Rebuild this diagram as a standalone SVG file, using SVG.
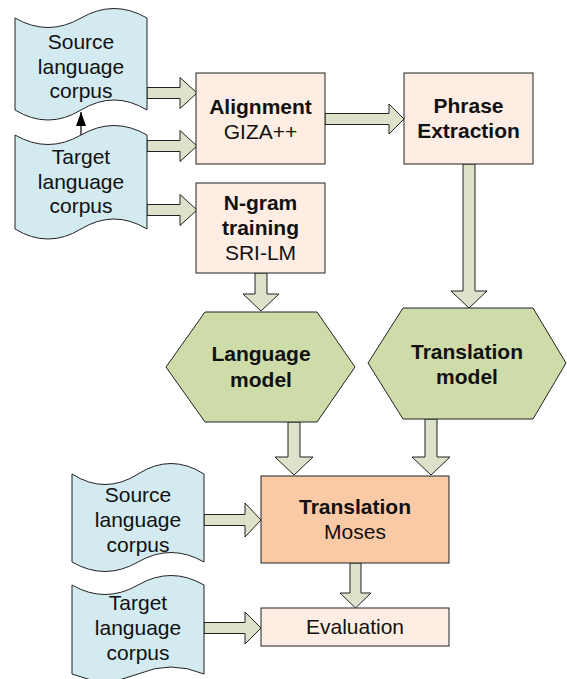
<svg xmlns="http://www.w3.org/2000/svg" width="567" height="679" viewBox="0 0 567 679">
<defs>
<style>
.corpus{fill:#D3EAF0;stroke:#222;stroke-width:1}
.box{fill:#FDEDE3;stroke:#222;stroke-width:1}
.hot{fill:#FAC9A6;stroke:#222;stroke-width:1}
.hex{fill:#CEDCAA;stroke:#222;stroke-width:1}
.barrow{fill:#DDE2CB;stroke:#222;stroke-width:1}
text{font-family:"Liberation Sans",Arial,sans-serif;font-size:21px;fill:#111;text-anchor:middle}
.b{font-weight:bold}
</style>
<marker id="tri" markerWidth="14" markerHeight="10" refX="14" refY="5" orient="auto" markerUnits="userSpaceOnUse">
<path d="M0,0 L14,5 L0,10 z" fill="#000"/>
</marker>
</defs>
<g id="connectors">
<line x1="81" y1="136" x2="81" y2="112" stroke="#000" stroke-width="1.2" marker-end="url(#tri)"/>
<path class="barrow" d="M147,87.5 H180 V77.5 L197,93 L180,108.5 V98.5 H147 Z"/>
<path class="barrow" d="M147,140.5 H180 V130.5 L197,146 L180,161.5 V151.5 H147 Z"/>
<path class="barrow" d="M147,204.5 H180 V194.5 L197,210 L180,225.5 V215.5 H147 Z"/>
<path class="barrow" d="M325,113.5 H389 V104 L404,119 L389,134 V124.5 H325 Z"/>
<path class="barrow" d="M463,164 V291 H451 L469,308 L487,291 H475 V164 Z"/>
<path class="barrow" d="M255,273 V294 H243 L261,311 L279,294 H267 V273 Z"/>
<path class="barrow" d="M288,422 V457 H275 L294,475 L313,457 H300 V422 Z"/>
<path class="barrow" d="M425,419 V457 H412 L431,475 L450,457 H437 V419 Z"/>
<path class="barrow" d="M350,563 V593 H340 L355.5,608 L371,593 H361 V563 Z"/>
<path class="barrow" d="M204,514.5 H245 V503 L261,520 L245,537 V525.5 H204 Z"/>
<path class="barrow" d="M204,622.5 H245 V612 L261,628 L245,644 V633.5 H204 Z"/>
</g>
<g id="source1">
<path class="corpus" d="M15,18 q33,19 66,0 t66,0 V110 q-33,-20 -66,0 t-66,0 Z"/>
<text x="81" y="49">Source</text>
<text x="81" y="74">language</text>
<text x="81" y="98">corpus</text>
</g>
<g id="target1">
<path class="corpus" d="M15,135 q33,19 66,0 t66,0 V229 q-33,-20 -66,0 t-66,0 Z"/>
<text x="81" y="164">Target</text>
<text x="81" y="189">language</text>
<text x="81" y="213">corpus</text>
</g>
<g id="alignment">
<rect class="box" x="196" y="73" width="129" height="91"/>
<text class="b" x="260.5" y="114">Alignment</text>
<text x="260.5" y="139">GIZA++</text>
</g>
<g id="phrase">
<rect class="box" x="404" y="73" width="129" height="91"/>
<text class="b" x="468.5" y="113">Phrase</text>
<text class="b" x="468.5" y="138">Extraction</text>
</g>
<g id="ngram">
<rect class="box" x="196" y="183" width="129" height="90"/>
<text class="b" x="260.5" y="210">N-gram</text>
<text class="b" x="260.5" y="235">training</text>
<text x="260.5" y="260">SRI-LM</text>
</g>
<g id="langmodel">
<path class="hex" d="M166,367 L205,312 H317 L355,367 L317,422 H205 Z"/>
<text class="b" x="261" y="361">Language</text>
<text class="b" x="261" y="387">model</text>
</g>
<g id="transmodel">
<path class="hex" d="M368,363 L403,308 H533 L566,363 L533,419 H403 Z"/>
<text class="b" x="467" y="359">Translation</text>
<text class="b" x="467" y="384">model</text>
</g>
<g id="translation">
<rect class="hot" x="261" y="476" width="188" height="87"/>
<text class="b" x="355" y="514">Translation</text>
<text x="355" y="539">Moses</text>
</g>
<g id="evaluation">
<rect class="box" x="261" y="608" width="188" height="38"/>
<text x="355" y="634">Evaluation</text>
</g>
<g id="source2">
<path class="corpus" d="M72,474 q33,21 66,0 t66,0 V562 q-33,-19 -66,0 t-66,0 Z"/>
<text x="138" y="502">Source</text>
<text x="138" y="527">language</text>
<text x="138" y="552">corpus</text>
</g>
<g id="target2">
<path class="corpus" d="M72,585 q33,19 66,0 t66,0 V674 q-33,-14 -66,0 t-66,0 Z"/>
<text x="138" y="610">Target</text>
<text x="138" y="635">language</text>
<text x="138" y="660">corpus</text>
</g>
</svg>
